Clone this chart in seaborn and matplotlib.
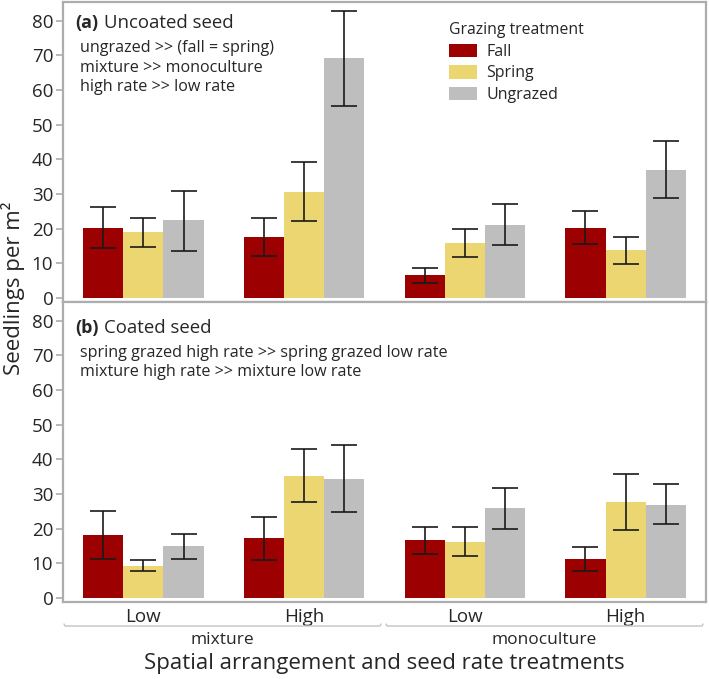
import numpy as np
import pandas as pd
import matplotlib
matplotlib.use("Agg")
import matplotlib.pyplot as plt
from matplotlib.lines import Line2D
import seaborn as sns

# ---- data ----
arrangements = ["mixture", "mixture", "monoculture", "monoculture"]
rates = ["Low", "High", "Low", "High"]
grazing = ["Fall", "Spring", "Ungrazed"]

# panel (a) uncoated seed: rows = grazing, cols = treatment
a_mean = [[20.3, 17.6, 6.5, 20.3],
          [19.0, 30.6, 15.9, 13.8],
          [22.4, 69.1, 21.2, 37.0]]
a_lo = [[14.3, 12.1, 4.4, 15.6],
        [14.8, 22.1, 11.8, 9.9],
        [13.6, 55.5, 15.3, 28.8]]
a_hi = [[26.3, 23.0, 8.7, 25.0],
        [23.0, 39.2, 20.0, 17.6],
        [31.0, 82.9, 27.1, 45.3]]

# panel (b) coated seed
b_mean = [[18.2, 17.2, 16.6, 11.3],
          [9.2, 35.1, 16.2, 27.7],
          [14.9, 34.2, 25.9, 26.9]]
b_lo = [[11.3, 11.1, 12.7, 7.8],
        [7.7, 27.6, 12.1, 19.6],
        [11.3, 24.7, 20.0, 21.3]]
b_hi = [[25.2, 23.5, 20.5, 14.8],
        [10.9, 42.9, 20.5, 35.8],
        [18.6, 44.1, 31.8, 32.9]]

yticks = [0, 10, 20, 30, 40, 50, 60, 70, 80]
palette = {"Fall": "#9C0000", "Spring": "#EBD672", "Ungrazed": "#BEBEBE"}

sns.set_theme(style="white")
plt.rcParams["font.family"] = ["Open Sans", "DejaVu Sans"]

W, H = 709, 679
fig = plt.figure(figsize=(W / 100, H / 100), dpi=100)

def fx(px):
    return px / W

def fy(py):
    return 1 - py / H

keys = [f"{a} {r}" for a, r in zip(arrangements, rates)]

def make_df(mean):
    rows = []
    for gi, g in enumerate(grazing):
        for ti, k in enumerate(keys):
            rows.append({"treatment": k, "grazing": g, "mean": mean[gi][ti]})
    return pd.DataFrame(rows)

spine_col = "#ADADAD"
text_col = "#262626"

axes = []
panels = [(2, a_mean, a_lo, a_hi), (302, b_mean, b_lo, b_hi)]
for pi, (top_px, mean, lo, hi) in enumerate(panels):
    ax = fig.add_axes([fx(63), fy(top_px + 300), fx(643), 300 / H])
    df = make_df(mean)
    sns.barplot(data=df, x="treatment", y="mean", hue="grazing", order=keys,
                hue_order=grazing, palette=palette, width=0.75, saturation=1,
                errorbar=None, ax=ax, legend=(pi == 0), linewidth=0)
    bar_conts = list(ax.containers)
    for gi, cont in enumerate(bar_conts):
        for ti, bar in enumerate(cont.patches):
            xc = bar.get_x() + bar.get_width() / 2
            m = mean[gi][ti]
            ax.errorbar([xc], [m], yerr=[[m - lo[gi][ti]], [hi[gi][ti] - m]],
                        fmt="none", ecolor="#1a1a1a", elinewidth=1.2,
                        capsize=9.5, capthick=1.2)
    ax.set_xlim(-0.5, 3.5)
    ax.set_ylim(-1.15, 85.4)
    ax.set_yticks(yticks)
    ax.set_yticklabels([str(t) for t in yticks])
    ax.set_xlabel("")
    ax.set_ylabel("")
    ax.tick_params(axis="y", length=5, width=1.2, color=spine_col,
                   labelsize=13.5, labelcolor=text_col, pad=2, left=True)
    ax.tick_params(axis="x", length=0, labelsize=13.5, labelcolor=text_col, pad=4)
    for s in ax.spines.values():
        s.set_color(spine_col)
        s.set_linewidth(1.6)
        s.set_visible(True)
    if pi == 0:
        ax.set_xticklabels([])
        leg = ax.legend(title="Grazing treatment", loc="upper left",
                        bbox_to_anchor=((449 - 63) / 643, (300 - 20) / 300),
                        frameon=False, fontsize=11.5, title_fontsize=11.3,
                        handlelength=1.75, handleheight=0.9, handletextpad=0.6,
                        labelspacing=0.35, borderaxespad=0, borderpad=0)
        leg._legend_box.align = "left"
        for t in leg.get_texts():
            t.set_color(text_col)
        leg.get_title().set_color(text_col)
    else:
        ax.set_xticks(range(4))
        ax.set_xticklabels(rates)
    axes.append(ax)

# panel titles and annotations
title_fs = 13.0
note_fs = 11.6
fig.text(fx(75), fy(23), "(a)", fontsize=title_fs, fontweight="bold", color=text_col, va="center")
fig.text(fx(104), fy(23), "Uncoated seed", fontsize=title_fs + 0.4, color=text_col, va="center")
for i, line in enumerate(["ungrazed >> (fall = spring)", "mixture >> monoculture",
                          "high rate >> low rate"]):
    fig.text(fx(80), fy(48 + 19.5 * i), line, fontsize=note_fs, color=text_col, va="center")

fig.text(fx(75), fy(328), "(b)", fontsize=title_fs, fontweight="bold", color=text_col, va="center")
fig.text(fx(104), fy(328), "Coated seed", fontsize=title_fs + 0.4, color=text_col, va="center")
for i, line in enumerate(["spring grazed high rate >> spring grazed low rate",
                          "mixture high rate >> mixture low rate"]):
    fig.text(fx(80), fy(353 + 19 * i), line, fontsize=note_fs, color=text_col, va="center")

# group brackets under x-axis
for x0, x1, lab in [(64, 381, "mixture"), (386, 703, "monoculture")]:
    fig.add_artist(Line2D([fx(x0), fx(x0 + 1), fx(x1 - 1), fx(x1)],
                          [fy(624), fy(626), fy(626), fy(624)],
                          color="#C4C4C4", lw=1.0, transform=fig.transFigure))
    fig.text(fx((x0 + x1) / 2), fy(640), lab, fontsize=12.5, color=text_col,
             ha="center", va="center")

fig.text(fx(384), fy(664), "Spatial arrangement and seed rate treatments",
         fontsize=16, color=text_col, ha="center", va="center")
fig.text(fx(13), fy(288), "Seedlings per m²", fontsize=16, color=text_col,
         ha="center", va="center", rotation=90)

fig.savefig("out.png", dpi=100)
